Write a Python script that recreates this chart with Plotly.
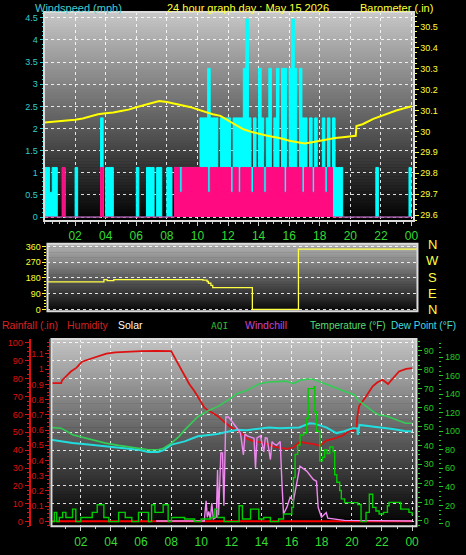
import plotly.graph_objects as go

W, H = 466, 555
FONT = "Liberation Sans Narrow, Arial Narrow, Liberation Sans, sans-serif"

# ---------------- data ----------------
hour_ticks = [2, 4, 6, 8, 10, 12, 14, 16, 18, 20, 22, 24]
hour_labels = ["02", "04", "06", "08", "10", "12", "14", "16", "18", "20", "22", "00"]

# wind speed levels (mph) and 10-minute samples coded as level index
wind_levels = [0, 0.56, 1.12, 2.24, 3.36, 4.47]
gust_codes = (
    [2, 2, 1, 2, 2, 0] + [0, 2, 0, 0, 0, 0] + [2, 0, 0, 0, 0, 0] + [0, 0, 0, 0, 3, 0] +
    [2, 2, 2, 0, 0, 0] + [0, 0, 0, 0, 0, 0] + [2, 0, 0, 0, 2, 2] + [2, 0, 2, 2, 0, 0] +
    [2, 2, 0, 2, 2, 2] + [2, 2, 2, 2, 2, 2] + [2, 3, 3, 3, 4, 3] + [3, 3, 2, 3, 3, 3] +
    [3, 2, 3, 3, 3, 3] + [4, 5, 3, 2, 3, 2] + [4, 3, 2, 3, 4, 2] + [3, 4, 2, 4, 4, 2] +
    [4, 5, 4, 2, 4, 3] + [3, 2, 3, 2, 3, 2] + [2, 3, 2, 3, 2, 3] + [2, 2, 2, 0, 0, 0] +
    [0, 0, 0, 0, 0, 0] + [0, 0, 0, 0, 2, 0] + [0, 0, 0, 0, 0, 0] + [0, 0, 0, 0, 0, 2]
)
speed_codes = (
    [0, 0, 0, 0, 0, 0] + [0, 2, 0, 0, 0, 0] + [0, 0, 0, 0, 0, 0] + [0, 0, 0, 0, 2, 0] +
    [0, 0, 0, 0, 0, 0] + [0, 0, 0, 0, 0, 0] + [0, 0, 0, 0, 0, 0] + [0, 0, 0, 0, 0, 0] +
    [0, 0, 0, 2, 2, 1] + [2, 2, 2, 2, 2, 2] + [2, 2, 2, 2, 1, 2] + [2, 2, 2, 2, 2, 2] +
    [2, 1, 2, 2, 1, 2] + [2, 2, 2, 1, 2, 2] + [2, 2, 1, 2, 2, 2] + [2, 2, 2, 2, 1, 2] +
    [2, 2, 2, 2, 2, 1] + [2, 2, 2, 1, 2, 2] + [2, 2, 1, 2, 2, 0] + [0, 0, 0, 0, 0, 0] +
    [0, 0, 0, 0, 0, 0] + [0, 0, 0, 0, 0, 0] + [0, 0, 0, 0, 0, 0] + [0, 0, 0, 0, 0, 0]
)

baro_hours = [0, 0.5, 1, 1.5, 2, 2.5, 3, 3.5, 4, 4.5, 5, 5.5, 6, 6.5, 7, 7.5, 8, 8.5, 9, 9.5,
              10, 10.5, 11, 11.5, 12, 12.5, 13, 13.5, 14, 14.5, 15, 15.5, 16, 16.5, 17, 17.5,
              18, 18.5, 19, 19.5, 20, 20.35, 20.4, 20.8, 21.5, 22, 22.5, 23, 23.5, 24]
baro_vals = [30.042, 30.045, 30.048, 30.052, 30.056, 30.062, 30.072, 30.082, 30.087, 30.09,
             30.097, 30.104, 30.115, 30.125, 30.135, 30.145, 30.14, 30.132, 30.125, 30.117,
             30.105, 30.092, 30.082, 30.074, 30.052, 30.032, 30.01, 29.998, 29.988, 29.98,
             29.973, 29.966, 29.955, 29.95, 29.942, 29.948, 29.955, 29.962, 29.968, 29.972,
             29.978, 29.979, 30.026, 30.034, 30.06, 30.074, 30.087, 30.1, 30.11, 30.12]

dir_hours = [0, 3.66, 3.87, 4.3, 10.08, 10.35, 10.44, 10.6, 10.72, 13.29, 16.28, 24]
dir_deg = [158, 171, 165, 171, 168, 160, 150, 138, 125, 0, 345, 345]

hum_hours = [0, 0.7, 0.75, 1.0, 1.34, 1.7, 2.08, 2.6, 3.2, 3.7, 4.3, 5.0, 5.5, 6.0, 7.0, 8.0,
             8.32, 8.6, 8.9, 9.2, 9.55, 9.9, 10.21, 10.5, 11.08, 11.5, 11.96, 12.4, 12.8, 13.05,
             13.5, 13.9, 14.37, 14.8, 15.2, 15.68, 16.12, 16.54, 17.0, 17.44, 17.87, 18.3, 18.8,
             19.41, 19.82, 20.0, 20.3, 20.35, 20.48, 20.94, 21.38, 21.7, 22.04, 22.4, 22.69,
             23.13, 23.6, 24]
hum_vals = [77.5, 77.5, 79, 81, 84, 86, 89.5, 91, 92.8, 94, 94.7, 95, 95.4, 95.4, 95.5, 95.4,
            90.5, 86, 81, 77, 73, 68, 63.8, 62, 59.2, 56, 52.8, 51, 48.5, 46.3, 45, 44.5, 43.6,
            42, 41.5, 40.8, 41.5, 44.7, 44, 43.6, 42.5, 45.4, 46.5, 48.2, 50.9, 51, 51, 58,
            64.7, 70, 75.7, 78, 79.4, 77, 80, 84, 85.5, 85.9]

temp_hours = [0, 0.7, 1.45, 2.5, 3.64, 4.5, 5.83, 6.5, 7.14, 7.5, 8.02, 8.5, 8.9, 9.3, 9.77,
              10.5, 11.08, 11.7, 12.4, 13.05, 13.9, 14.5, 15.03, 15.6, 16.12, 16.6, 17.0, 17.4,
              17.87, 18.4, 18.97, 19.5, 19.95, 20.2, 20.4, 20.94, 21.4, 21.81, 22.3, 22.69,
              23.13, 23.57, 24]
temp_vals = [49.5, 49.1, 45.6, 43.5, 41.2, 40, 38.6, 37.7, 37.7, 38.5, 41.2, 44.5, 48.2, 51.5,
             55.2, 58.5, 60.5, 63.5, 67.5, 69.2, 72.7, 73.5, 73.9, 74, 72.7, 74.5, 75, 75, 73.6,
             72, 70.1, 68.5, 67.5, 66.5, 64, 60.5, 58, 56.1, 55.5, 54.4, 53, 51.7, 51.7]

dew_hours = [0, 0.7, 1.45, 2.5, 3.64, 4.5, 5.83, 6.48, 7.14, 7.5, 8.02, 8.9, 9.77, 10.5, 11.08,
             11.5, 12.4, 13.0, 13.9, 14.5, 15.2, 15.68, 16.5, 17.2, 17.5, 18.3, 18.97, 19.5,
             20.06, 20.35, 20.4, 20.5, 21.4, 22.7, 23.5, 24]
dew_vals = [43, 42.1, 41.2, 40.5, 39.5, 38.8, 37.7, 36.5, 36.5, 37.5, 40.4, 42.1, 44.8, 45.5,
            46, 46.8, 48.2, 48, 49.1, 49.5, 49, 49.1, 49.5, 51.7, 51.5, 49.5, 46.5, 47.5, 49.1,
            49, 45.6, 50.8, 50, 48.6, 47.6, 47.4]

wc_hours = [7.0, 10.2, 10.32, 10.4, 10.5, 10.6, 10.7, 10.8, 11.0, 11.08, 11.15, 11.3, 11.41,
            11.5, 11.63, 11.8, 12.0, 12.18, 12.4, 12.6, 12.8, 12.9, 13.05, 13.5, 13.6, 13.7,
            13.93, 14.15, 14.25, 14.37, 14.59, 14.7, 14.8, 15.0, 15.24, 15.35, 15.46, 15.68,
            15.9, 16.12, 16.33, 16.55, 17.0, 17.44, 17.65, 17.76, 17.98, 18.3, 18.4, 18.75,
            19.5, 24]
wc_vals = [0, 0, 10.7, 2, 5, 1, 9.5, 1, 2, 27, 3, 36, 36, 8, 55, 55, 53, 50.8, 48.8, 46.5, 35,
           46, 45, 43.8, 28, 44, 45, 36.5, 44, 43.8, 32.5, 42, 41, 40, 42, 21, 3.7, 7.2, 12.5,
           10.7, 19.4, 29, 26.4, 22, 21, 7.2, 2, 4.5, 1.5, 1, 0.3, 0]

aqi_hours = [0, 0.24, 0.4, 0.57, 0.79, 1.01, 1.45, 1.67, 2.0, 2.76, 3.09, 3.53, 3.86, 4.51,
             4.95, 5.39, 5.83, 6.49, 6.7, 6.92, 7.47, 7.8, 8.02, 8.89, 9.55, 9.99, 10.65, 10.9,
             11.08, 11.52, 12.51, 12.73, 13.27, 13.82, 14.15, 14.59, 15.13, 15.46, 16.01,
             16.12, 16.23, 16.4, 16.56, 16.8, 17.0, 17.1, 17.48, 17.54, 17.65, 17.87, 18.05,
             18.2, 18.35, 18.53, 18.75, 18.86, 19.0, 19.19, 19.3, 19.51, 20.39, 20.61, 20.94,
             21.16, 21.38, 21.6, 21.81, 22.1, 22.36, 22.47, 23.24, 23.79, 24]
aqi_vals = [2.5, 12.5, 2.5, 7, 12.5, 7, 16, 2.5, 7, 12.5, 20.7, 7, 2.5, 12.5, 7, 2.5, 12.5,
            2.5, 20.7, 12.5, 20.7, 2.5, 7, 5.3, 2.5, 5.3, 7, 16, 7, 2.5, 19.6, 5.3, 16, 5.3, 7,
            2.5, 5.3, 10.7, 17.8, 50, 75, 85, 96, 98, 114, 146, 148, 121, 100, 68, 72, 80, 76,
            83, 78, 53, 45, 36, 27, 23, 21, 2.5, 12.5, 32, 17.8, 14, 10.7, 12.5, 19.6, 23.2, 16,
            12.5, 9]

rain_hours = [0, 24]
rain_vals = [0, 0]

# ---------------- colours ----------------
CYAN = "#00ffff"
PINK = "#ff0a80"
GRN_TXT = "#33dd33"
RED = "#dd1111"


def px_x(x):
    return x / W


def px_y(y):
    return 1 - y / H


def gradient(x0, x1, y0, y1, top, bottom, n=70):
    out = []
    for i in range(n):
        ya = y0 + (y1 - y0) * i / n
        yb = y0 + (y1 - y0) * (i + 1) / n + 0.6
        v = int(round(top + (bottom - top) * (i + 0.5) / n))
        out.append(dict(type="rect", xref="paper", yref="paper", x0=px_x(x0), x1=px_x(x1),
                        y0=px_y(min(yb, y1)), y1=px_y(ya), fillcolor=f"rgb({v},{v},{v})",
                        line=dict(width=0), layer="below"))
    return out


def frame(x0, x1, y0, y1):
    return dict(type="rect", xref="paper", yref="paper", x0=px_x(x0), x1=px_x(x1),
                y0=px_y(y1), y1=px_y(y0), line=dict(color="#dcdcdc", width=2),
                fillcolor="rgba(0,0,0,0)", layer="above")


fig = go.Figure()

# ---------- top panel ----------
slot_h = [i / 6 for i in range(len(gust_codes))] + [24]
gust = [wind_levels[c] for c in gust_codes] + [wind_levels[gust_codes[-1]]]
speed = [wind_levels[c] for c in speed_codes] + [wind_levels[speed_codes[-1]]]

fig.add_trace(go.Scatter(x=slot_h, y=gust, mode="lines", line=dict(color=CYAN, width=1, shape="hv"),
                         fill="tozeroy", fillcolor=CYAN, xaxis="x", yaxis="y"))
fig.add_trace(go.Scatter(x=slot_h, y=speed, mode="lines", line=dict(color=PINK, width=1, shape="hv"),
                         fill="tozeroy", fillcolor=PINK, xaxis="x", yaxis="y"))
fig.add_trace(go.Scatter(x=baro_hours, y=baro_vals, mode="lines", line=dict(color="#ffff00", width=2),
                         xaxis="x", yaxis="y2"))

# ---------- middle panel ----------
fig.add_trace(go.Scatter(x=dir_hours, y=dir_deg, mode="lines",
                         line=dict(color="#ffff44", width=1.3, shape="hv"), xaxis="x2", yaxis="y3"))

# ---------- bottom panel ----------
fig.add_trace(go.Scatter(x=aqi_hours, y=aqi_vals, mode="lines",
                         line=dict(color="#00cc00", width=1.4, shape="hv"), xaxis="x3", yaxis="y7"))
fig.add_trace(go.Scatter(x=dew_hours, y=dew_vals, mode="lines", line=dict(color="#22dddd", width=2),
                         xaxis="x3", yaxis="y6"))
fig.add_trace(go.Scatter(x=temp_hours, y=temp_vals, mode="lines", line=dict(color="#33cc55", width=1.6),
                         xaxis="x3", yaxis="y6"))
fig.add_trace(go.Scatter(x=hum_hours, y=hum_vals, mode="lines", line=dict(color="#dd1111", width=1.8),
                         xaxis="x3", yaxis="y4"))
fig.add_trace(go.Scatter(x=wc_hours, y=wc_vals, mode="lines", line=dict(color="#ee88ee", width=1.4),
                         xaxis="x3", yaxis="y6"))
fig.add_trace(go.Scatter(x=rain_hours, y=rain_vals, mode="lines", line=dict(color="#ff0000", width=2),
                         xaxis="x3", yaxis="y5"))

GRID = dict(showgrid=True, gridcolor="rgba(255,255,255,0.85)", griddash="dot", gridwidth=1)


def tickfont(c, s=9):
    return dict(color=c, size=s, family=FONT)


layout = dict(
    width=W, height=H, margin=dict(l=0, r=0, t=0, b=0),
    paper_bgcolor="black", plot_bgcolor="rgba(0,0,0,0)", showlegend=False,
    font=dict(family=FONT),
    # top panel
    xaxis=dict(domain=[px_x(45), px_x(418)], range=[0, 24.13], anchor="y",
               tickmode="array", tickvals=hour_ticks, ticktext=hour_labels,
               tickfont=tickfont(GRN_TXT, 12), ticks="outside", ticklen=4, tickcolor="#cccccc",
               minor=dict(tickmode="linear", tick0=0, dtick=0.5, ticks="outside", ticklen=2,
                          tickcolor="#cccccc", showgrid=False),
               zeroline=False, showline=False, **GRID),
    yaxis=dict(domain=[px_y(221), px_y(10)], range=[-0.0895, 4.634], anchor="x",
               tickmode="linear", tick0=0, dtick=0.5, tickfont=tickfont("#33cccc"),
               ticks="outside", ticklen=4, tickcolor="#33cccc",
               minor=dict(tickmode="linear", tick0=0, dtick=0.1, ticks="outside", ticklen=2,
                          tickcolor="#33cccc", showgrid=False),
               zeroline=False, showline=False, **GRID),
    yaxis2=dict(overlaying="y", side="right", anchor="x", range=[29.5716, 30.571],
                tickmode="linear", tick0=29.6, dtick=0.1, tickfont=tickfont("#ffff33"),
                ticks="outside", ticklen=4, tickcolor="#ffff33",
                minor=dict(tickmode="linear", tick0=29.6, dtick=0.025, ticks="outside", ticklen=2,
                           tickcolor="#ffff33", showgrid=False),
                showgrid=False, zeroline=False, showline=False),
    # middle panel
    xaxis2=dict(domain=[px_x(48), px_x(422)], range=[0, 24], anchor="y3",
                showticklabels=False, ticks="", showgrid=False, zeroline=False, showline=False),
    yaxis3=dict(domain=[px_y(312), px_y(244)], range=[-9.6, 375.3], anchor="x2",
                tickmode="array", tickvals=[0, 90, 180, 270, 360], tickfont=tickfont("#ffff33"),
                ticks="outside", ticklen=4, tickcolor="#ffff33",
                minor=dict(tickmode="linear", tick0=0, dtick=18, ticks="outside", ticklen=2,
                           tickcolor="#ffff33", showgrid=False),
                zeroline=False, showline=False, **GRID),
    # bottom panel
    xaxis3=dict(domain=[px_x(52), px_x(421)], range=[0.05, 24.29], anchor="y4",
                tickmode="array", tickvals=hour_ticks, ticktext=hour_labels,
                tickfont=tickfont(GRN_TXT, 12), ticks="outside", ticklen=4, tickcolor="#cccccc",
                minor=dict(tickmode="linear", tick0=0, dtick=1, ticks="outside", ticklen=2,
                           tickcolor="#cccccc", showgrid=False),
                zeroline=False, showline=False, **GRID),
    yaxis4=dict(domain=[px_y(529), px_y(340)], range=[-2.49, 102.2], anchor="free",
                position=px_x(30), side="left", tickmode="linear", tick0=0, dtick=10,
                tickfont=tickfont(RED), ticks="outside", ticklen=4, tickcolor=RED,
                showline=True, linecolor=RED, linewidth=2,
                minor=dict(tickmode="linear", tick0=0, dtick=2.5, ticks="outside", ticklen=2,
                           tickcolor=RED, showgrid=False),
                zeroline=False, **GRID),
    yaxis5=dict(overlaying="y4", anchor="free", position=px_x(50), side="left",
                range=[-0.0326, 1.199], tickmode="linear", tick0=0, dtick=0.1,
                tickfont=tickfont(RED), ticks="outside", ticklen=4, tickcolor=RED,
                showline=True, linecolor=RED, linewidth=1,
                minor=dict(tickmode="linear", tick0=0, dtick=0.025, ticks="outside", ticklen=2,
                           tickcolor=RED, showgrid=False),
                showgrid=False, zeroline=False),
    yaxis6=dict(overlaying="y4", anchor="free", position=px_x(421.5), side="right",
                range=[-2.78, 96.3], tickmode="linear", tick0=0, dtick=10,
                tickfont=tickfont("#22cc22"), ticks="outside", ticklen=4, tickcolor="#22cc22",
                minor=dict(tickmode="linear", tick0=0, dtick=2.5, ticks="outside", ticklen=2,
                           tickcolor="#22cc22", showgrid=False),
                showgrid=False, zeroline=False, showline=False),
    yaxis7=dict(overlaying="y4", anchor="free", position=px_x(443), side="right",
                range=[-2.5, 199.6], tickmode="linear", tick0=0, dtick=20,
                tickfont=tickfont("#22cc22"), ticks="outside", ticklen=4, tickcolor="#22cc22",
                minor=dict(tickmode="linear", tick0=0, dtick=5, ticks="outside", ticklen=2,
                           tickcolor="#22cc22", showgrid=False),
                showgrid=False, zeroline=False, showline=False),
)
fig.update_layout(**layout)

shapes = []
shapes += gradient(45, 418, 10, 221, 200, 0)
shapes += gradient(48, 422, 244, 312, 180, 8, n=40)
shapes += gradient(52, 421, 340, 529, 196, 0)
shapes += [frame(44.5, 418.5, 10, 221), frame(48, 422, 244, 312), frame(52, 421, 340, 529)]
fig.update_layout(shapes=shapes)


def label(text, x, y, color, size=10.5, anchor="left", family=FONT):
    fig.add_annotation(text=text, xref="paper", yref="paper", x=px_x(x), y=px_y(y),
                       xanchor=anchor, yanchor="middle", showarrow=False,
                       font=dict(color=color, size=size, family=family))


label("Windspeed (mph)", 33, 6, "#44cccc", size=11)
label("24 hour graph day : May 15 2026", 250.5, 6, "#ffff33", size=11, anchor="center")
label("Barometer (.in)", 440, 6, "#ffff33", size=11, anchor="right")

label("Rainfall (.in)", 0, 326, "#dd2222")
label("Humidity", 66, 326, "#cc2222")
label("Solar", 117, 326, "#ffffff")
label("AQI", 211, 326, "#33bb33", size=9.5, family="DejaVu Sans Mono, monospace")
label("Windchill", 246, 326, "#cc44cc")
label("Temperature (°F)", 311, 326, "#55dd77", size=10)
label("Dew Point (°F)", 393, 326, "#44dddd", size=10)

for letter, yy in zip(["N", "W", "S", "E", "N"], [244.3, 261, 278.3, 294.3, 310]):
    label(letter, 437, yy, "#ffff44", size=13, anchor="center")

fig.write_html("out.html")
